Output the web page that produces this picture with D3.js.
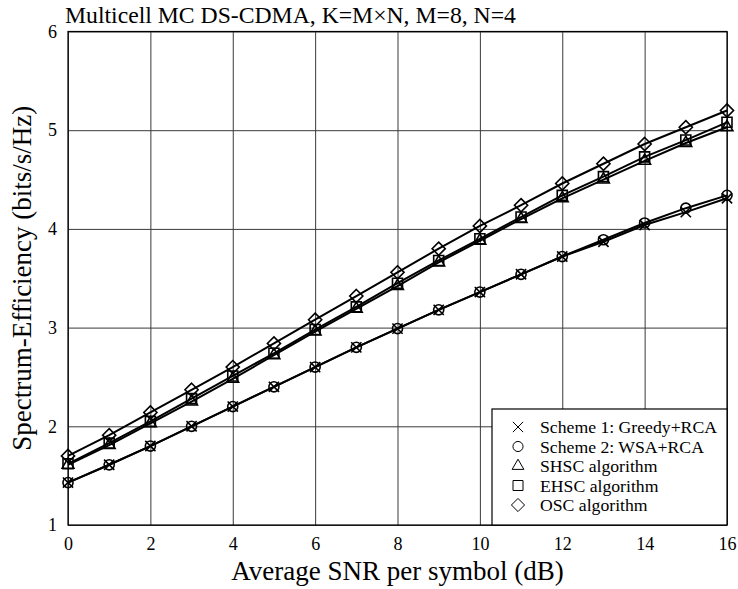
<!DOCTYPE html>
<html>
<head>
<meta charset="utf-8">
<script src="https://cdn.jsdelivr.net/npm/d3@7"></script>
<style>
  body { margin: 0; background: #fff; }
  text { font-family: "Liberation Serif", "Times New Roman", serif; fill: #000; }
</style>
</head>
<body>
<div id="chart"></div>
<script>
// data
var snr = [0, 1, 2, 3, 4, 5, 6, 7, 8, 9, 10, 11, 12, 13, 14, 15, 16];
var greedyRCA = [1.43, 1.61, 1.80, 2.00, 2.20, 2.40, 2.60, 2.80, 2.99, 3.18, 3.36, 3.54, 3.72, 3.87, 4.04, 4.17, 4.31];
var wsaRCA = [1.43, 1.61, 1.80, 2.00, 2.20, 2.40, 2.60, 2.80, 2.99, 3.18, 3.36, 3.54, 3.72, 3.89, 4.06, 4.21, 4.34];
var shsc = [1.61, 1.81, 2.03, 2.25, 2.48, 2.72, 2.96, 3.19, 3.42, 3.66, 3.88, 4.10, 4.31, 4.50, 4.69, 4.87, 5.03];
var ehsc = [1.62, 1.83, 2.05, 2.28, 2.51, 2.74, 2.98, 3.21, 3.45, 3.68, 3.90, 4.12, 4.34, 4.53, 4.73, 4.90, 5.08];
var osc = [1.70, 1.91, 2.14, 2.37, 2.60, 2.84, 3.08, 3.32, 3.56, 3.80, 4.03, 4.24, 4.46, 4.66, 4.86, 5.03, 5.20];
var seriesNames = ["Scheme 1: Greedy+RCA", "Scheme 2: WSA+RCA", "SHSC algorithm", "EHSC algorithm", "OSC algorithm"];
var seriesMarkers = ["cross", "circle", "triangle", "square", "diamond"];
var xTicks = [0, 2, 4, 6, 8, 10, 12, 14, 16];
var yTicks = [1, 2, 3, 4, 5, 6];

var svgWidth = 738;
var svgHeight = 589;
var margin = { top: 31.5, right: 11, bottom: 64, left: 68 };
var width = svgWidth - margin.left - margin.right;
var height = svgHeight - margin.top - margin.bottom;

var svg = d3.select("#chart")
    .append("svg")
    .attr("width", svgWidth)
    .attr("height", svgHeight);

var chartGroup = svg.append("g")
    .attr("transform", "translate(" + margin.left + "," + margin.top + ")");

var xScale = d3.scaleLinear().domain([0, 16]).range([0, width]);
var yScale = d3.scaleLinear().domain([1, 6]).range([height, 0]);

// grid lines
chartGroup.append("g")
    .attr("class", "grid")
    .call(d3.axisBottom(xScale).tickValues(xTicks).tickSize(height).tickFormat(""))
    .call(g => g.select(".domain").remove());
chartGroup.append("g")
    .attr("class", "grid")
    .call(d3.axisLeft(yScale).tickValues(yTicks).tickSize(-width).tickFormat(""))
    .call(g => g.select(".domain").remove());
chartGroup.selectAll(".grid line")
    .attr("stroke", "#3a3a3a")
    .attr("stroke-width", 1);

// tick labels
var bottomAxis = chartGroup.append("g")
    .attr("transform", `translate(0, ${height})`)
    .call(d3.axisBottom(xScale).tickValues(xTicks).tickSize(0).tickPadding(12).tickFormat(d3.format("d")));
var leftAxis = chartGroup.append("g")
    .call(d3.axisLeft(yScale).tickValues(yTicks).tickSize(0).tickPadding(11).tickFormat(d3.format("d")));
chartGroup.selectAll(".domain").remove();
chartGroup.selectAll(".tick text")
    .attr("font-family", "Liberation Serif, serif")
    .attr("font-size", "18px")
    .attr("fill", "#000");

// markers
var symbolTypes = {
    cross: d3.symbolTimes,
    circle: d3.symbolCircle,
    triangle: d3.symbolTriangle,
    square: d3.symbolSquare,
    diamond: d3.symbolDiamond2
};
var symbolSizes = { cross: 70, circle: 80, triangle: 60, square: 100, diamond: 110 };

var allSeries = [greedyRCA, wsaRCA, shsc, ehsc, osc];

var line = d3.line()
    .x((d, i) => xScale(snr[i]))
    .y(d => yScale(d));

allSeries.forEach(function (vals, k) {
    var m = seriesMarkers[k];
    chartGroup.append("path")
        .attr("d", line(vals))
        .attr("fill", "none")
        .attr("stroke", "#000")
        .attr("stroke-width", 2);

    chartGroup.selectAll(".mk" + k)
        .data(vals)
        .enter()
        .append("path")
        .attr("class", "mk" + k)
        .attr("transform", (d, i) => `translate(${xScale(snr[i])},${yScale(d)})`)
        .attr("d", d3.symbol().type(symbolTypes[m]).size(symbolSizes[m]))
        .attr("fill", "none")
        .attr("stroke", "#000")
        .attr("stroke-width", 1.6);
});

// frame
chartGroup.append("rect")
    .attr("width", width)
    .attr("height", height)
    .attr("fill", "none")
    .attr("stroke", "#000")
    .attr("stroke-width", 1.2);

// legend
var legendW = 235;
var legendH = 116;
var legend = chartGroup.append("g")
    .attr("transform", `translate(${width - legendW}, ${height - legendH})`);
legend.append("rect")
    .attr("width", legendW)
    .attr("height", legendH)
    .attr("fill", "#fff")
    .attr("stroke", "#000")
    .attr("stroke-width", 1.2);
var rows = legend.selectAll(".lg")
    .data(seriesNames)
    .enter()
    .append("g")
    .attr("class", "lg")
    .attr("transform", (d, i) => `translate(0, ${18 + i * 19.5})`);
rows.append("path")
    .attr("transform", "translate(26, 0)")
    .attr("d", (d, i) => d3.symbol().type(symbolTypes[seriesMarkers[i]]).size(symbolSizes[seriesMarkers[i]])())
    .attr("fill", "none")
    .attr("stroke", "#000")
    .attr("stroke-width", 1);
rows.append("text")
    .attr("x", 48)
    .attr("dy", "0.35em")
    .attr("font-size", "17.7px")
    .text(d => d);

// titles
svg.append("text")
    .attr("x", 65)
    .attr("y", 23)
    .attr("font-size", "23.7px")
    .text("Multicell MC DS-CDMA, K=M\u00d7N, M=8, N=4");

svg.append("text")
    .attr("x", margin.left + width / 2)
    .attr("y", 580)
    .attr("text-anchor", "middle")
    .attr("font-size", "27px")
    .text("Average SNR per symbol (dB)");

svg.append("text")
    .attr("transform", "rotate(-90)")
    .attr("x", -(margin.top + height / 2))
    .attr("y", 31)
    .attr("text-anchor", "middle")
    .attr("font-size", "27px")
    .text("Spectrum-Efficiency (bits/s/Hz)");
</script>
</body>
</html>
